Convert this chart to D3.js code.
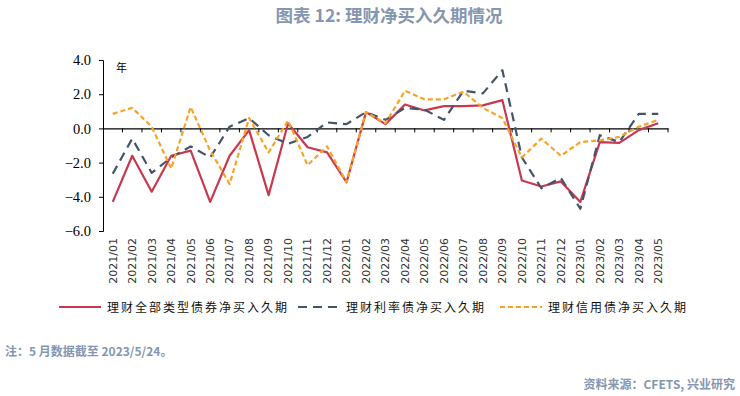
<!DOCTYPE html>
<html>
<head>
<meta charset="utf-8">
<script src="https://cdn.jsdelivr.net/npm/d3@7/dist/d3.min.js"></script>
<style>
  body { margin: 0; background: #fff; }
  svg { display: block; }
</style>
</head>
<body>
<div id="chart"></div>
<script>
// monthly categories
const months = ["2021/01","2021/02","2021/03","2021/04","2021/05","2021/06","2021/07","2021/08","2021/09","2021/10","2021/11","2021/12",
  "2022/01","2022/02","2022/03","2022/04","2022/05","2022/06","2022/07","2022/08","2022/09","2022/10","2022/11","2022/12",
  "2023/01","2023/02","2023/03","2023/04","2023/05"];

// 理财全部类型债券净买入久期
const allBonds = [-4.3, -1.6, -3.7, -1.6, -1.3, -4.3, -1.6, -0.1, -3.9, 0.3, -1.1, -1.4,
  -3.15, 0.95, 0.25, 1.4, 1.05, 1.3, 1.3, 1.35, 1.65, -3.05, -3.4, -3.1,
  -4.3, -0.8, -0.85, -0.1, 0.3];

// 理财利率债净买入久期
const rateBonds = [-2.65, -0.6, -2.6, -1.7, -1.05, -1.7, 0.1, 0.6, -0.4, -0.9, -0.5, 0.35,
  0.25, 0.95, 0.5, 1.2, 1.1, 0.5, 2.2, 2.05, 3.4, -1.7, -3.5, -2.9,
  -4.7, -0.4, -0.8, 0.85, 0.85];

// 理财信用债净买入久期
const creditBonds = [0.85, 1.2, 0.1, -2.35, 1.25, -1.3, -3.25, 0.6, -1.4, 0.45, -2.15, -1.05,
  -3.15, 0.95, 0.3, 2.2, 1.7, 1.7, 2.15, 1.2, 0.6, -1.7, -0.6, -1.6,
  -0.8, -0.7, -0.5, 0.1, 0.5];

const yTicks = [4, 2, 0, -2, -4, -6];

const series = [
  {name: "理财全部类型债券净买入久期", values: allBonds, color: "#c8394f", dash: null},
  {name: "理财利率债净买入久期", values: rateBonds, color: "#44546a", dash: "9,6"},
  {name: "理财信用债净买入久期", values: creditBonds, color: "#f8a328", dash: "5,3"}
];

const width = 740, height = 396;
const plot = {left: 103, right: 668, top: 60, bottom: 231};

const svg = d3.select("#chart").append("svg")
  .attr("width", width)
  .attr("height", height);

// title
svg.append("text")
  .attr("x", 389).attr("y", 22)
  .attr("text-anchor", "middle")
  .attr("font-family", "'Noto Sans CJK SC', sans-serif")
  .attr("font-size", 17.5).attr("font-weight", "bold")
  .attr("fill", "#8496b0")
  .text("图表 12: 理财净买入久期情况");

const x = d3.scaleBand().domain(months).range([plot.left, plot.right]);
const y = d3.scaleLinear().domain([-6, 4]).range([plot.bottom, plot.top]);

// y axis
const yAxis = svg.append("g")
  .attr("transform", "translate(" + plot.left + ",0)")
  .call(d3.axisLeft(y).tickValues(yTicks).tickFormat(d3.format(".1f")).tickSize(4).tickPadding(8));
yAxis.selectAll("text")
  .attr("font-family", "'Liberation Serif', serif")
  .attr("font-size", 14.5).attr("fill", "#000");
yAxis.selectAll("line, path").attr("stroke", "#000");

// x axis line at zero, ticks between months
const xAxis = svg.append("g")
  .attr("transform", "translate(0," + y(0) + ")")
  .call(d3.axisBottom(x).tickSize(0).tickFormat(""));
xAxis.select("path").attr("stroke", "#000").attr("stroke-width", 1.2);
xAxis.selectAll(".tick").remove();
xAxis.selectAll(".sep")
  .data(months.slice(1).concat(["end"]))
  .enter().append("line")
  .attr("x1", (d, i) => plot.left + (i + 1) * x.step())
  .attr("x2", (d, i) => plot.left + (i + 1) * x.step())
  .attr("y1", 0).attr("y2", 4)
  .attr("stroke", "#000");

// x labels below the plot
svg.append("g").selectAll("text")
  .data(months)
  .enter().append("text")
  .attr("transform", d => "translate(" + (x(d) + x.bandwidth() / 2) + ",238) rotate(-90)")
  .attr("text-anchor", "end")
  .attr("dy", "0.35em")
  .attr("font-family", "'DejaVu Sans', sans-serif")
  .attr("font-size", 11)
  .attr("fill", "#333")
  .text(d => d);

// unit
svg.append("text")
  .attr("x", 116).attr("y", 72)
  .attr("font-family", "'Noto Sans CJK SC', sans-serif")
  .attr("font-size", 11)
  .attr("fill", "#000")
  .text("年");

const line = d3.line()
  .x((d, i) => x(months[i]) + x.bandwidth() / 2)
  .y(d => y(d));

series.forEach(s => {
  svg.append("path")
    .attr("d", line(s.values))
    .attr("fill", "none")
    .attr("stroke", s.color)
    .attr("stroke-width", 2.2)
    .attr("stroke-dasharray", s.dash)
    .attr("stroke-linejoin", "round");
});

// legend
const legendX = [59, 298, 500];
const legend = svg.append("g");
series.forEach((s, i) => {
  const lx = legendX[i];
  legend.append("line")
    .attr("x1", lx).attr("x2", lx + 42)
    .attr("y1", 307).attr("y2", 307)
    .attr("stroke", s.color)
    .attr("stroke-width", 2.2)
    .attr("stroke-dasharray", s.dash);
  legend.append("text")
    .attr("x", lx + 48).attr("y", 312)
    .attr("font-family", "'Noto Sans CJK SC', sans-serif")
    .attr("font-size", 12)
    .attr("letter-spacing", 2)
    .attr("fill", "#111")
    .text(s.name);
});

// notes
svg.append("text")
  .attr("x", 5).attr("y", 356)
  .attr("font-family", "'Noto Sans CJK SC', sans-serif")
  .attr("font-size", 12).attr("font-weight", "bold")
  .attr("fill", "#8496b0")
  .text("注：5 月数据截至 2023/5/24。");

svg.append("text")
  .attr("x", 735).attr("y", 389)
  .attr("text-anchor", "end")
  .attr("font-family", "'Noto Sans CJK SC', sans-serif")
  .attr("font-size", 12).attr("font-weight", "bold")
  .attr("fill", "#8496b0")
  .text("资料来源：CFETS, 兴业研究");
</script>
</body>
</html>
